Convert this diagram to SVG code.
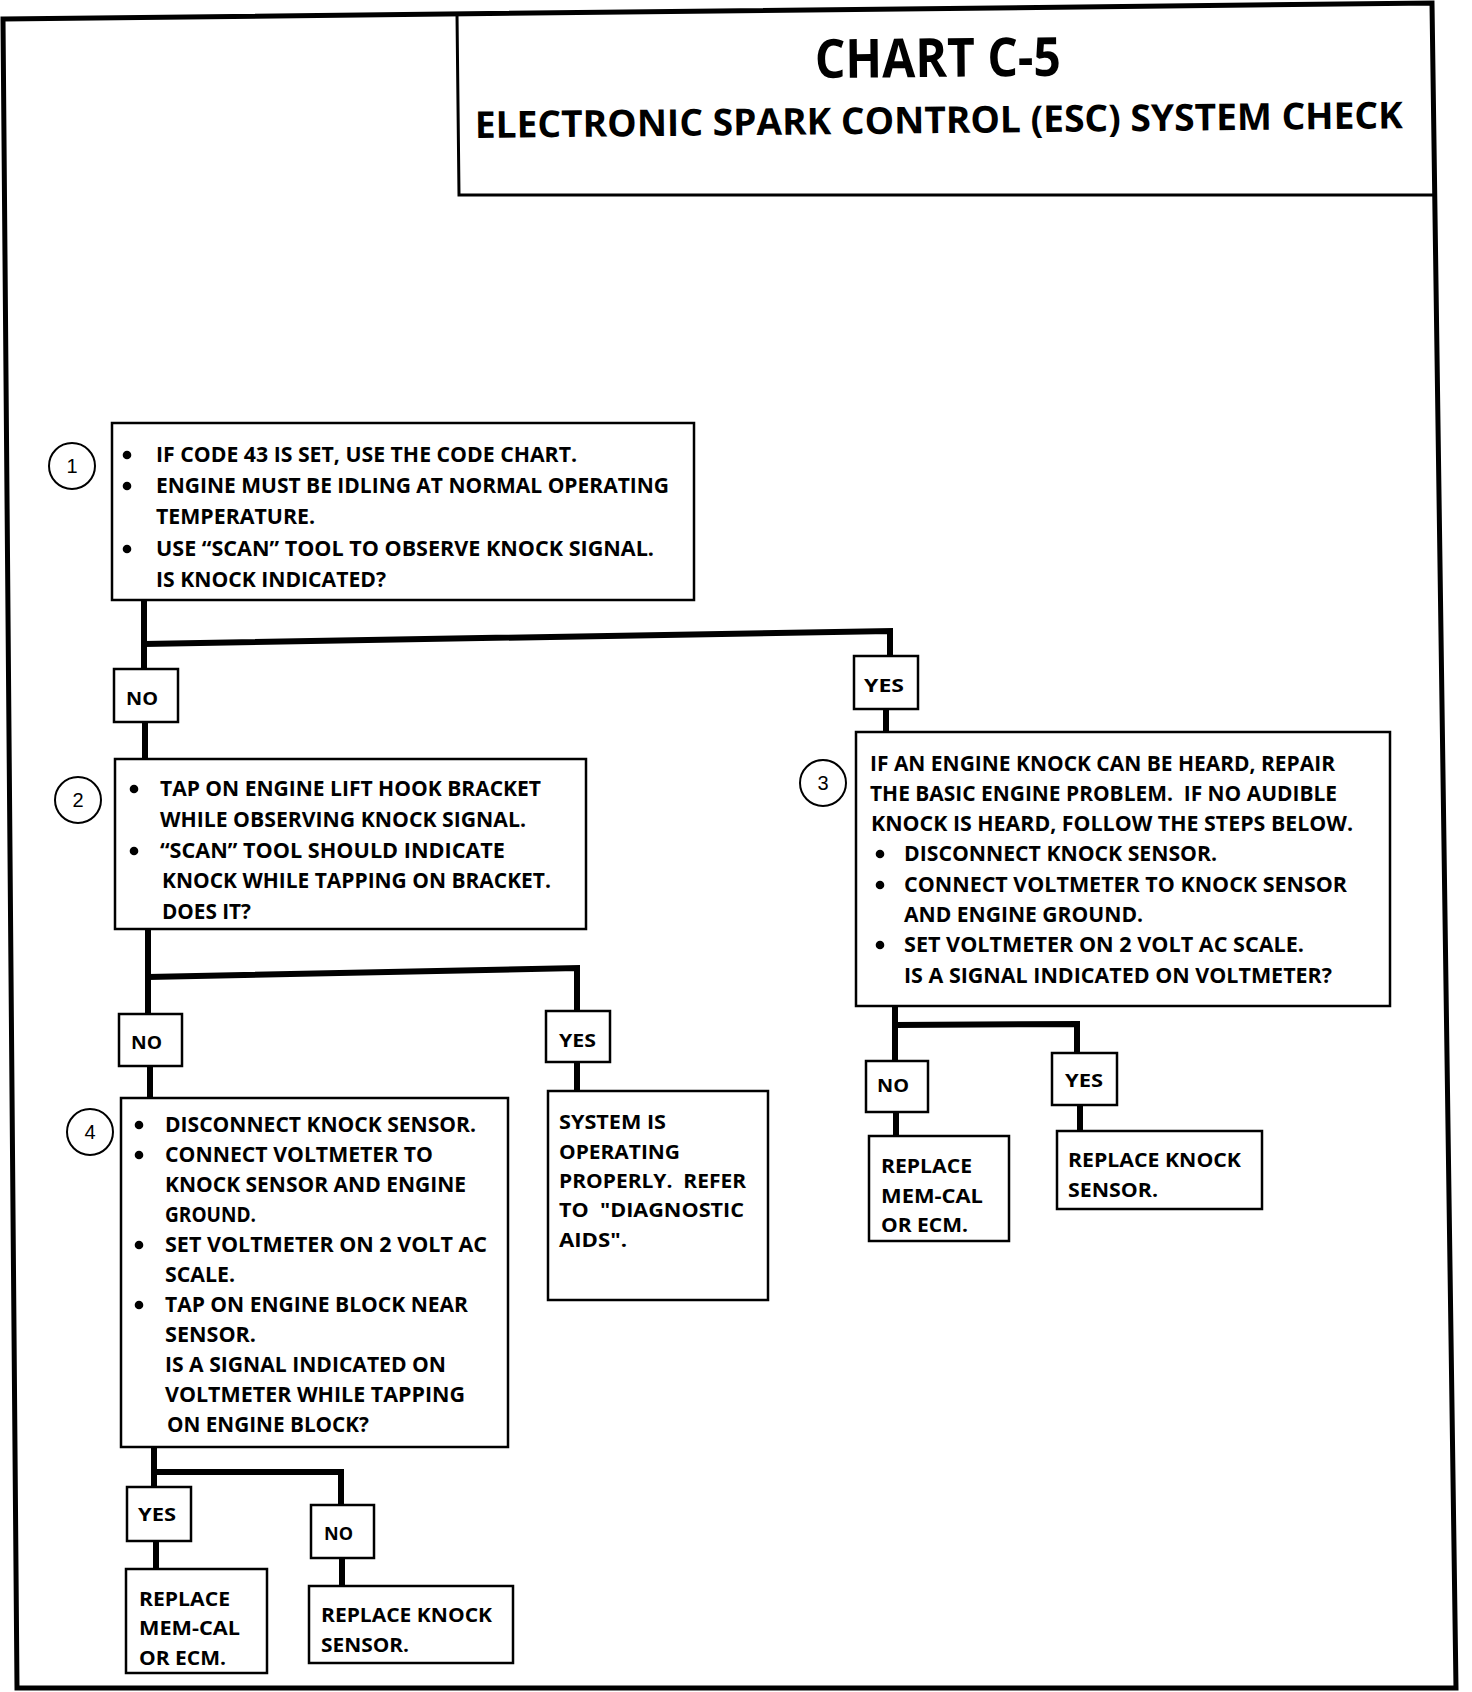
<svg xmlns="http://www.w3.org/2000/svg" width="1472" height="1692" viewBox="0 0 1472 1692">
<style>
.frame{fill:none;stroke:#000;stroke-width:5}
.hdr{fill:none;stroke:#000;stroke-width:3}
.box{fill:#fff;stroke:#000;stroke-width:2.5}
.wire{fill:none;stroke:#000;stroke-width:6;stroke-linecap:butt;stroke-linejoin:miter}
.num{fill:#fff;stroke:#000;stroke-width:2}
.t{font-family:"Open Sans","Liberation Sans",sans-serif;font-weight:700;font-size:21px;fill:#000}
.s{font-family:"Open Sans","Liberation Sans",sans-serif;font-weight:700;font-size:19px;fill:#000}
.l{font-family:"Open Sans","Liberation Sans",sans-serif;font-weight:700;font-size:18px;fill:#000}
.n{font-family:"Liberation Sans",sans-serif;font-weight:400;font-size:20px;fill:#000;text-anchor:middle}
.h{font-family:"Open Sans","Liberation Sans",sans-serif;font-weight:700;fill:#000}
</style>
<rect x="0" y="0" width="1472" height="1692" fill="#fff"/>
<polygon class="frame" points="3,19 1432,3 1456,1688 17,1688"/>

<g id="header">
<polyline class="hdr" points="457,14 459,195 1434,195"/>
<text class="h" x="815" y="78" font-size="54" textLength="246" lengthAdjust="spacingAndGlyphs" transform="rotate(-0.5 815 78)">CHART C-5</text>
<text class="h" x="475" y="138" font-size="37" textLength="928" lengthAdjust="spacingAndGlyphs" transform="rotate(-0.6 475 138)">ELECTRONIC SPARK CONTROL (ESC) SYSTEM CHECK</text>
</g>

<g id="connectors">
<polyline class="wire" points="144,600 144,669"/>
<polyline class="wire" points="144,644 890,631 890,656"/>
<polyline class="wire" points="145,722 145,759"/>
<polyline class="wire" points="886,709 886,732"/>
<polyline class="wire" points="148,929 148,1014"/>
<polyline class="wire" points="148,977 577,968 577,1011"/>
<polyline class="wire" points="150,1066 150,1098"/>
<polyline class="wire" points="577,1062 577,1091"/>
<polyline class="wire" points="895,1006 895,1061"/>
<polyline class="wire" points="895,1025 1077,1024 1077,1053"/>
<polyline class="wire" points="896,1112 896,1136"/>
<polyline class="wire" points="1080,1105 1080,1131"/>
<polyline class="wire" points="154,1447 154,1487"/>
<polyline class="wire" points="154,1472 341,1472 341,1505"/>
<polyline class="wire" points="156,1541 156,1569"/>
<polyline class="wire" points="342,1558 342,1586"/>
</g>

<g id="step1">
<circle class="num" cx="72" cy="466" r="23"/>
<text class="n" x="72" y="473">1</text>
<rect class="box" x="112" y="423" width="582" height="177"/>
<circle cx="127" cy="455" r="4.3"/>
<circle cx="127" cy="486" r="4.3"/>
<circle cx="127" cy="549" r="4.3"/>
<text class="t" x="156" y="462" textLength="421" lengthAdjust="spacingAndGlyphs">IF CODE 43 IS SET, USE THE CODE CHART.</text>
<text class="t" x="156" y="493" textLength="513" lengthAdjust="spacingAndGlyphs">ENGINE MUST BE IDLING AT NORMAL OPERATING</text>
<text class="t" x="156" y="524" textLength="159" lengthAdjust="spacingAndGlyphs">TEMPERATURE.</text>
<text class="t" x="156" y="556" textLength="498" lengthAdjust="spacingAndGlyphs">USE “SCAN” TOOL TO OBSERVE KNOCK SIGNAL.</text>
<text class="t" x="156" y="587" textLength="230" lengthAdjust="spacingAndGlyphs">IS KNOCK INDICATED?</text>
</g>

<g id="no1">
<rect class="box" x="114" y="669" width="64" height="53"/>
<text class="l" x="126" y="705" textLength="32" lengthAdjust="spacingAndGlyphs">NO</text>
</g>
<g id="yes1">
<rect class="box" x="854" y="656" width="64" height="53"/>
<text class="l" x="864" y="692" textLength="40" lengthAdjust="spacingAndGlyphs">YES</text>
</g>

<g id="step2">
<circle class="num" cx="78" cy="800" r="23"/>
<text class="n" x="78" y="807">2</text>
<rect class="box" x="115" y="759" width="471" height="170"/>
<circle cx="134" cy="789" r="4.3"/>
<circle cx="134" cy="851" r="4.3"/>
<text class="t" x="160" y="796" textLength="381" lengthAdjust="spacingAndGlyphs">TAP ON ENGINE LIFT HOOK BRACKET</text>
<text class="t" x="160" y="827" textLength="366" lengthAdjust="spacingAndGlyphs">WHILE OBSERVING KNOCK SIGNAL.</text>
<text class="t" x="160" y="858" textLength="345" lengthAdjust="spacingAndGlyphs">“SCAN” TOOL SHOULD INDICATE</text>
<text class="t" x="162" y="888" textLength="389" lengthAdjust="spacingAndGlyphs">KNOCK WHILE TAPPING ON BRACKET.</text>
<text class="t" x="162" y="919" textLength="89" lengthAdjust="spacingAndGlyphs">DOES IT?</text>
</g>

<g id="step3">
<circle class="num" cx="823" cy="783" r="23"/>
<text class="n" x="823" y="790">3</text>
<rect class="box" x="856" y="732" width="534" height="274"/>
<circle cx="880" cy="854" r="4.3"/>
<circle cx="880" cy="885" r="4.3"/>
<circle cx="880" cy="945" r="4.3"/>
<text class="t" x="870" y="771" textLength="465" lengthAdjust="spacingAndGlyphs">IF AN ENGINE KNOCK CAN BE HEARD, REPAIR</text>
<text class="t" x="870" y="801" textLength="467" lengthAdjust="spacingAndGlyphs" xml:space="preserve">THE BASIC ENGINE PROBLEM.  IF NO AUDIBLE</text>
<text class="t" x="871" y="831" textLength="482" lengthAdjust="spacingAndGlyphs">KNOCK IS HEARD, FOLLOW THE STEPS BELOW.</text>
<text class="t" x="904" y="861" textLength="313" lengthAdjust="spacingAndGlyphs">DISCONNECT KNOCK SENSOR.</text>
<text class="t" x="904" y="892" textLength="443" lengthAdjust="spacingAndGlyphs">CONNECT VOLTMETER TO KNOCK SENSOR</text>
<text class="t" x="904" y="922" textLength="239" lengthAdjust="spacingAndGlyphs">AND ENGINE GROUND.</text>
<text class="t" x="904" y="952" textLength="400" lengthAdjust="spacingAndGlyphs">SET VOLTMETER ON 2 VOLT AC SCALE.</text>
<text class="t" x="904" y="983" textLength="428" lengthAdjust="spacingAndGlyphs">IS A SIGNAL INDICATED ON VOLTMETER?</text>
</g>

<g id="no2">
<rect class="box" x="119" y="1014" width="63" height="52"/>
<text class="l" x="131" y="1049" textLength="31" lengthAdjust="spacingAndGlyphs">NO</text>
</g>
<g id="yes2">
<rect class="box" x="546" y="1011" width="64" height="51"/>
<text class="l" x="559" y="1047" textLength="37" lengthAdjust="spacingAndGlyphs">YES</text>
</g>

<g id="step4">
<circle class="num" cx="90" cy="1132" r="23"/>
<text class="n" x="90" y="1139">4</text>
<rect class="box" x="121" y="1098" width="387" height="349"/>
<circle cx="139" cy="1125" r="4.3"/>
<circle cx="139" cy="1155" r="4.3"/>
<circle cx="139" cy="1245" r="4.3"/>
<circle cx="139" cy="1305" r="4.3"/>
<text class="t" x="165" y="1132" textLength="311" lengthAdjust="spacingAndGlyphs">DISCONNECT KNOCK SENSOR.</text>
<text class="t" x="165" y="1162" textLength="268" lengthAdjust="spacingAndGlyphs">CONNECT VOLTMETER TO</text>
<text class="t" x="165" y="1192" textLength="301" lengthAdjust="spacingAndGlyphs">KNOCK SENSOR AND ENGINE</text>
<text class="t" x="165" y="1222" textLength="91" lengthAdjust="spacingAndGlyphs">GROUND.</text>
<text class="t" x="165" y="1252" textLength="322" lengthAdjust="spacingAndGlyphs">SET VOLTMETER ON 2 VOLT AC</text>
<text class="t" x="165" y="1282" textLength="70" lengthAdjust="spacingAndGlyphs">SCALE.</text>
<text class="t" x="165" y="1312" textLength="303" lengthAdjust="spacingAndGlyphs">TAP ON ENGINE BLOCK NEAR</text>
<text class="t" x="165" y="1342" textLength="91" lengthAdjust="spacingAndGlyphs">SENSOR.</text>
<text class="t" x="165" y="1372" textLength="281" lengthAdjust="spacingAndGlyphs">IS A SIGNAL INDICATED ON</text>
<text class="t" x="165" y="1402" textLength="300" lengthAdjust="spacingAndGlyphs">VOLTMETER WHILE TAPPING</text>
<text class="t" x="167" y="1432" textLength="202" lengthAdjust="spacingAndGlyphs">ON ENGINE BLOCK?</text>
</g>

<g id="system-ok">
<rect class="box" x="548" y="1091" width="220" height="209"/>
<text class="s" x="559" y="1129" textLength="107" lengthAdjust="spacingAndGlyphs">SYSTEM IS</text>
<text class="s" x="559" y="1159" textLength="121" lengthAdjust="spacingAndGlyphs">OPERATING</text>
<text class="s" x="559" y="1188" textLength="187" lengthAdjust="spacingAndGlyphs" xml:space="preserve">PROPERLY.  REFER</text>
<text class="s" x="559" y="1217" textLength="185" lengthAdjust="spacingAndGlyphs" xml:space="preserve">TO  "DIAGNOSTIC</text>
<text class="s" x="559" y="1247" textLength="68" lengthAdjust="spacingAndGlyphs">AIDS".</text>
</g>

<g id="no3">
<rect class="box" x="866" y="1061" width="62" height="51"/>
<text class="l" x="877" y="1092" textLength="32" lengthAdjust="spacingAndGlyphs">NO</text>
</g>
<g id="yes3">
<rect class="box" x="1052" y="1053" width="65" height="52"/>
<text class="l" x="1065" y="1087" textLength="38" lengthAdjust="spacingAndGlyphs">YES</text>
</g>

<g id="replace-ecm-3">
<rect class="box" x="869" y="1136" width="140" height="105"/>
<text class="s" x="881" y="1173" textLength="91" lengthAdjust="spacingAndGlyphs">REPLACE</text>
<text class="s" x="881" y="1203" textLength="102" lengthAdjust="spacingAndGlyphs">MEM-CAL</text>
<text class="s" x="881" y="1232" textLength="87" lengthAdjust="spacingAndGlyphs">OR ECM.</text>
</g>
<g id="replace-sensor-3">
<rect class="box" x="1057" y="1131" width="205" height="78"/>
<text class="s" x="1068" y="1167" textLength="173" lengthAdjust="spacingAndGlyphs">REPLACE KNOCK</text>
<text class="s" x="1068" y="1197" textLength="90" lengthAdjust="spacingAndGlyphs">SENSOR.</text>
</g>

<g id="yes4">
<rect class="box" x="127" y="1487" width="64" height="54"/>
<text class="l" x="138" y="1521" textLength="38" lengthAdjust="spacingAndGlyphs">YES</text>
</g>
<g id="no4">
<rect class="box" x="311" y="1505" width="63" height="53"/>
<text class="l" x="324" y="1540" textLength="29" lengthAdjust="spacingAndGlyphs">NO</text>
</g>

<g id="replace-ecm-4">
<rect class="box" x="126" y="1569" width="141" height="104"/>
<text class="s" x="139" y="1606" textLength="91" lengthAdjust="spacingAndGlyphs">REPLACE</text>
<text class="s" x="139" y="1635" textLength="101" lengthAdjust="spacingAndGlyphs">MEM-CAL</text>
<text class="s" x="139" y="1665" textLength="87" lengthAdjust="spacingAndGlyphs">OR ECM.</text>
</g>
<g id="replace-sensor-4">
<rect class="box" x="309" y="1586" width="204" height="77"/>
<text class="s" x="321" y="1622" textLength="171" lengthAdjust="spacingAndGlyphs">REPLACE KNOCK</text>
<text class="s" x="321" y="1652" textLength="88" lengthAdjust="spacingAndGlyphs">SENSOR.</text>
</g>
</svg>
